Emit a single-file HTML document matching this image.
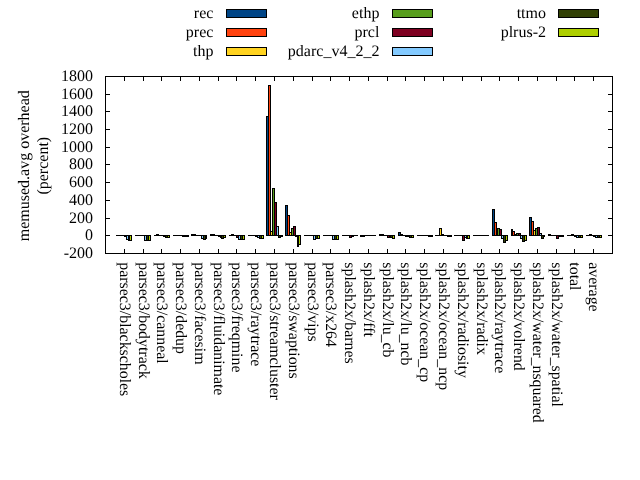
<!DOCTYPE html>
<html><head><meta charset="utf-8"><title>memused.avg overhead</title>
<style>html,body{margin:0;padding:0;background:#fff}svg{display:block;will-change:transform}text{font-family:"Liberation Serif","Times New Roman",serif;font-size:16px;fill:#000;text-rendering:geometricPrecision}</style></head>
<body>
<svg width="640" height="480" viewBox="0 0 640 480">
<rect width="640" height="480" fill="#fff"/>
<g shape-rendering="crispEdges">
<rect x="116" y="235" width="3" height="1" fill="#000"/><rect x="135" y="235" width="3" height="1" fill="#000"/><rect x="154" y="235" width="3" height="1" fill="#000"/><rect x="173" y="235" width="2" height="1" fill="#000"/><rect x="191" y="234" width="3" height="2" fill="#000"/><rect x="210" y="234" width="3" height="2" fill="#000"/><rect x="229" y="235" width="3" height="1" fill="#000"/><rect x="248" y="235" width="3" height="1" fill="#000"/><rect x="266" y="116" width="3" height="120" fill="#000"/><rect x="267" y="117" width="1" height="118" fill="#004586"/><rect x="285" y="205" width="3" height="31" fill="#000"/><rect x="286" y="206" width="1" height="29" fill="#004586"/><rect x="304" y="235" width="3" height="1" fill="#000"/><rect x="323" y="235" width="3" height="1" fill="#000"/><rect x="342" y="235" width="2" height="1" fill="#000"/><rect x="360" y="235" width="3" height="2" fill="#000"/><rect x="379" y="234" width="3" height="2" fill="#000"/><rect x="398" y="232" width="3" height="4" fill="#000"/><rect x="399" y="233" width="1" height="2" fill="#004586"/><rect x="417" y="235" width="3" height="1" fill="#000"/><rect x="435" y="235" width="3" height="1" fill="#000"/><rect x="454" y="235" width="3" height="1" fill="#000"/><rect x="473" y="235" width="3" height="1" fill="#000"/><rect x="492" y="209" width="3" height="27" fill="#000"/><rect x="493" y="210" width="1" height="25" fill="#004586"/><rect x="511" y="229" width="2" height="7" fill="#000"/><rect x="529" y="217" width="3" height="19" fill="#000"/><rect x="530" y="218" width="1" height="17" fill="#004586"/><rect x="548" y="234" width="3" height="2" fill="#000"/><rect x="567" y="235" width="3" height="1" fill="#000"/><rect x="586" y="235" width="3" height="1" fill="#000"/>
<rect x="118" y="235" width="3" height="1" fill="#000"/><rect x="137" y="235" width="3" height="1" fill="#000"/><rect x="156" y="234" width="3" height="2" fill="#000"/><rect x="174" y="235" width="3" height="1" fill="#000"/><rect x="193" y="234" width="3" height="2" fill="#000"/><rect x="212" y="234" width="3" height="2" fill="#000"/><rect x="231" y="234" width="3" height="2" fill="#000"/><rect x="250" y="235" width="2" height="1" fill="#000"/><rect x="268" y="85" width="3" height="151" fill="#000"/><rect x="269" y="86" width="1" height="149" fill="#ff420e"/><rect x="287" y="215" width="3" height="21" fill="#000"/><rect x="288" y="216" width="1" height="19" fill="#ff420e"/><rect x="306" y="235" width="3" height="1" fill="#000"/><rect x="325" y="235" width="3" height="1" fill="#000"/><rect x="343" y="235" width="3" height="1" fill="#000"/><rect x="362" y="235" width="3" height="2" fill="#000"/><rect x="381" y="234" width="3" height="2" fill="#000"/><rect x="400" y="234" width="3" height="2" fill="#000"/><rect x="419" y="235" width="2" height="1" fill="#000"/><rect x="437" y="235" width="3" height="1" fill="#000"/><rect x="456" y="235" width="3" height="1" fill="#000"/><rect x="475" y="235" width="3" height="1" fill="#000"/><rect x="494" y="222" width="3" height="14" fill="#000"/><rect x="495" y="223" width="1" height="12" fill="#ff420e"/><rect x="512" y="231" width="3" height="5" fill="#000"/><rect x="513" y="232" width="1" height="3" fill="#ff420e"/><rect x="531" y="221" width="3" height="15" fill="#000"/><rect x="532" y="222" width="1" height="13" fill="#ff420e"/><rect x="550" y="235" width="3" height="1" fill="#000"/><rect x="569" y="235" width="3" height="1" fill="#000"/><rect x="588" y="235" width="2" height="1" fill="#000"/>
<rect x="120" y="235" width="3" height="1" fill="#000"/><rect x="139" y="235" width="3" height="1" fill="#000"/><rect x="158" y="235" width="2" height="1" fill="#000"/><rect x="176" y="235" width="3" height="1" fill="#000"/><rect x="195" y="235" width="3" height="1" fill="#000"/><rect x="214" y="235" width="3" height="1" fill="#000"/><rect x="233" y="235" width="3" height="1" fill="#000"/><rect x="251" y="235" width="3" height="1" fill="#000"/><rect x="270" y="231" width="3" height="5" fill="#000"/><rect x="271" y="232" width="1" height="3" fill="#ffd320"/><rect x="289" y="232" width="3" height="4" fill="#000"/><rect x="290" y="233" width="1" height="2" fill="#ffd320"/><rect x="308" y="235" width="3" height="1" fill="#000"/><rect x="327" y="235" width="2" height="1" fill="#000"/><rect x="345" y="235" width="3" height="1" fill="#000"/><rect x="364" y="235" width="3" height="1" fill="#000"/><rect x="383" y="235" width="3" height="1" fill="#000"/><rect x="402" y="235" width="3" height="1" fill="#000"/><rect x="420" y="235" width="3" height="1" fill="#000"/><rect x="439" y="228" width="3" height="8" fill="#000"/><rect x="440" y="229" width="1" height="6" fill="#ffd320"/><rect x="458" y="235" width="3" height="1" fill="#000"/><rect x="477" y="235" width="3" height="1" fill="#000"/><rect x="496" y="228" width="2" height="8" fill="#000"/><rect x="514" y="234" width="3" height="2" fill="#000"/><rect x="533" y="230" width="3" height="6" fill="#000"/><rect x="534" y="231" width="1" height="4" fill="#ffd320"/><rect x="552" y="235" width="3" height="1" fill="#000"/><rect x="571" y="234" width="3" height="2" fill="#000"/><rect x="589" y="234" width="3" height="2" fill="#000"/>
<rect x="122" y="235" width="3" height="1" fill="#000"/><rect x="141" y="235" width="3" height="1" fill="#000"/><rect x="159" y="235" width="3" height="1" fill="#000"/><rect x="178" y="235" width="3" height="1" fill="#000"/><rect x="197" y="235" width="3" height="1" fill="#000"/><rect x="216" y="235" width="3" height="1" fill="#000"/><rect x="235" y="235" width="2" height="1" fill="#000"/><rect x="253" y="235" width="3" height="1" fill="#000"/><rect x="272" y="188" width="3" height="48" fill="#000"/><rect x="273" y="189" width="1" height="46" fill="#579d1c"/><rect x="291" y="228" width="3" height="8" fill="#000"/><rect x="292" y="229" width="1" height="6" fill="#579d1c"/><rect x="310" y="235" width="3" height="1" fill="#000"/><rect x="328" y="235" width="3" height="1" fill="#000"/><rect x="347" y="235" width="3" height="1" fill="#000"/><rect x="366" y="235" width="3" height="1" fill="#000"/><rect x="385" y="235" width="3" height="1" fill="#000"/><rect x="404" y="235" width="2" height="1" fill="#000"/><rect x="422" y="235" width="3" height="1" fill="#000"/><rect x="441" y="234" width="3" height="2" fill="#000"/><rect x="460" y="235" width="3" height="1" fill="#000"/><rect x="479" y="235" width="3" height="1" fill="#000"/><rect x="497" y="228" width="3" height="8" fill="#000"/><rect x="498" y="229" width="1" height="6" fill="#579d1c"/><rect x="516" y="233" width="3" height="3" fill="#000"/><rect x="517" y="234" width="1" height="1" fill="#579d1c"/><rect x="535" y="228" width="3" height="8" fill="#000"/><rect x="536" y="229" width="1" height="6" fill="#579d1c"/><rect x="554" y="235" width="3" height="1" fill="#000"/><rect x="573" y="235" width="2" height="1" fill="#000"/><rect x="591" y="235" width="3" height="1" fill="#000"/>
<rect x="124" y="235" width="3" height="2" fill="#000"/><rect x="143" y="235" width="2" height="1" fill="#000"/><rect x="161" y="235" width="3" height="1" fill="#000"/><rect x="180" y="235" width="3" height="1" fill="#000"/><rect x="199" y="235" width="3" height="1" fill="#000"/><rect x="218" y="235" width="3" height="2" fill="#000"/><rect x="236" y="235" width="3" height="3" fill="#000"/><rect x="237" y="236" width="1" height="1" fill="#7e0021"/><rect x="255" y="235" width="3" height="2" fill="#000"/><rect x="274" y="202" width="3" height="34" fill="#000"/><rect x="275" y="203" width="1" height="32" fill="#7e0021"/><rect x="293" y="226" width="3" height="10" fill="#000"/><rect x="294" y="227" width="1" height="8" fill="#7e0021"/><rect x="312" y="235" width="2" height="1" fill="#000"/><rect x="330" y="235" width="3" height="1" fill="#000"/><rect x="349" y="235" width="3" height="3" fill="#000"/><rect x="350" y="236" width="1" height="1" fill="#7e0021"/><rect x="368" y="235" width="3" height="1" fill="#000"/><rect x="387" y="235" width="3" height="3" fill="#000"/><rect x="388" y="236" width="1" height="1" fill="#7e0021"/><rect x="405" y="235" width="3" height="2" fill="#000"/><rect x="424" y="235" width="3" height="1" fill="#000"/><rect x="443" y="235" width="3" height="1" fill="#000"/><rect x="462" y="235" width="3" height="6" fill="#000"/><rect x="463" y="236" width="1" height="4" fill="#7e0021"/><rect x="481" y="235" width="2" height="1" fill="#000"/><rect x="499" y="229" width="3" height="7" fill="#000"/><rect x="500" y="230" width="1" height="5" fill="#7e0021"/><rect x="518" y="233" width="3" height="3" fill="#000"/><rect x="519" y="234" width="1" height="1" fill="#7e0021"/><rect x="537" y="227" width="3" height="9" fill="#000"/><rect x="538" y="228" width="1" height="7" fill="#7e0021"/><rect x="556" y="235" width="3" height="4" fill="#000"/><rect x="557" y="236" width="1" height="2" fill="#7e0021"/><rect x="574" y="235" width="3" height="2" fill="#000"/><rect x="593" y="235" width="3" height="2" fill="#000"/>
<rect x="126" y="235" width="3" height="5" fill="#000"/><rect x="127" y="236" width="1" height="3" fill="#83caff"/><rect x="144" y="235" width="3" height="6" fill="#000"/><rect x="145" y="236" width="1" height="4" fill="#83caff"/><rect x="163" y="235" width="3" height="2" fill="#000"/><rect x="182" y="235" width="3" height="2" fill="#000"/><rect x="201" y="235" width="3" height="4" fill="#000"/><rect x="202" y="236" width="1" height="2" fill="#83caff"/><rect x="220" y="235" width="2" height="3" fill="#000"/><rect x="238" y="235" width="3" height="5" fill="#000"/><rect x="239" y="236" width="1" height="3" fill="#83caff"/><rect x="257" y="235" width="3" height="3" fill="#000"/><rect x="258" y="236" width="1" height="1" fill="#83caff"/><rect x="276" y="226" width="3" height="10" fill="#000"/><rect x="277" y="227" width="1" height="8" fill="#83caff"/><rect x="295" y="235" width="3" height="2" fill="#000"/><rect x="313" y="235" width="3" height="5" fill="#000"/><rect x="314" y="236" width="1" height="3" fill="#83caff"/><rect x="332" y="235" width="3" height="5" fill="#000"/><rect x="333" y="236" width="1" height="3" fill="#83caff"/><rect x="351" y="235" width="3" height="2" fill="#000"/><rect x="370" y="235" width="3" height="1" fill="#000"/><rect x="389" y="235" width="2" height="3" fill="#000"/><rect x="407" y="235" width="3" height="2" fill="#000"/><rect x="426" y="235" width="3" height="1" fill="#000"/><rect x="445" y="235" width="3" height="1" fill="#000"/><rect x="464" y="235" width="3" height="3" fill="#000"/><rect x="465" y="236" width="1" height="1" fill="#83caff"/><rect x="482" y="235" width="3" height="1" fill="#000"/><rect x="501" y="235" width="3" height="4" fill="#000"/><rect x="502" y="236" width="1" height="2" fill="#83caff"/><rect x="520" y="235" width="3" height="4" fill="#000"/><rect x="521" y="236" width="1" height="2" fill="#83caff"/><rect x="539" y="233" width="3" height="3" fill="#000"/><rect x="540" y="234" width="1" height="1" fill="#83caff"/><rect x="558" y="235" width="2" height="2" fill="#000"/><rect x="576" y="235" width="3" height="3" fill="#000"/><rect x="577" y="236" width="1" height="1" fill="#83caff"/><rect x="595" y="235" width="3" height="3" fill="#000"/><rect x="596" y="236" width="1" height="1" fill="#83caff"/>
<rect x="128" y="235" width="2" height="6" fill="#000"/><rect x="146" y="235" width="3" height="6" fill="#000"/><rect x="147" y="236" width="1" height="4" fill="#314004"/><rect x="165" y="235" width="3" height="3" fill="#000"/><rect x="166" y="236" width="1" height="1" fill="#314004"/><rect x="184" y="235" width="3" height="2" fill="#000"/><rect x="203" y="235" width="3" height="5" fill="#000"/><rect x="204" y="236" width="1" height="3" fill="#314004"/><rect x="221" y="235" width="3" height="4" fill="#000"/><rect x="222" y="236" width="1" height="2" fill="#314004"/><rect x="240" y="235" width="3" height="5" fill="#000"/><rect x="241" y="236" width="1" height="3" fill="#314004"/><rect x="259" y="235" width="3" height="4" fill="#000"/><rect x="260" y="236" width="1" height="2" fill="#314004"/><rect x="278" y="235" width="3" height="3" fill="#000"/><rect x="279" y="236" width="1" height="1" fill="#314004"/><rect x="297" y="235" width="2" height="12" fill="#000"/><rect x="315" y="235" width="3" height="4" fill="#000"/><rect x="316" y="236" width="1" height="2" fill="#314004"/><rect x="334" y="235" width="3" height="5" fill="#000"/><rect x="335" y="236" width="1" height="3" fill="#314004"/><rect x="353" y="235" width="3" height="1" fill="#000"/><rect x="372" y="235" width="3" height="1" fill="#000"/><rect x="390" y="235" width="3" height="3" fill="#000"/><rect x="391" y="236" width="1" height="1" fill="#314004"/><rect x="409" y="235" width="3" height="3" fill="#000"/><rect x="410" y="236" width="1" height="1" fill="#314004"/><rect x="428" y="235" width="3" height="2" fill="#000"/><rect x="447" y="235" width="3" height="2" fill="#000"/><rect x="466" y="235" width="2" height="4" fill="#000"/><rect x="484" y="235" width="3" height="1" fill="#000"/><rect x="503" y="235" width="3" height="8" fill="#000"/><rect x="504" y="236" width="1" height="6" fill="#314004"/><rect x="522" y="235" width="3" height="7" fill="#000"/><rect x="523" y="236" width="1" height="5" fill="#314004"/><rect x="541" y="235" width="3" height="4" fill="#000"/><rect x="542" y="236" width="1" height="2" fill="#314004"/><rect x="559" y="235" width="3" height="2" fill="#000"/><rect x="578" y="235" width="3" height="3" fill="#000"/><rect x="579" y="236" width="1" height="1" fill="#314004"/><rect x="597" y="235" width="3" height="3" fill="#000"/><rect x="598" y="236" width="1" height="1" fill="#314004"/>
<rect x="129" y="235" width="3" height="6" fill="#000"/><rect x="130" y="236" width="1" height="4" fill="#aecf00"/><rect x="148" y="235" width="3" height="6" fill="#000"/><rect x="149" y="236" width="1" height="4" fill="#aecf00"/><rect x="167" y="235" width="3" height="3" fill="#000"/><rect x="168" y="236" width="1" height="1" fill="#aecf00"/><rect x="186" y="235" width="3" height="2" fill="#000"/><rect x="205" y="235" width="2" height="4" fill="#000"/><rect x="223" y="235" width="3" height="3" fill="#000"/><rect x="224" y="236" width="1" height="1" fill="#aecf00"/><rect x="242" y="235" width="3" height="5" fill="#000"/><rect x="243" y="236" width="1" height="3" fill="#aecf00"/><rect x="261" y="235" width="3" height="4" fill="#000"/><rect x="262" y="236" width="1" height="2" fill="#aecf00"/><rect x="280" y="235" width="3" height="2" fill="#000"/><rect x="298" y="235" width="3" height="10" fill="#000"/><rect x="299" y="236" width="1" height="8" fill="#aecf00"/><rect x="317" y="235" width="3" height="4" fill="#000"/><rect x="318" y="236" width="1" height="2" fill="#aecf00"/><rect x="336" y="235" width="3" height="5" fill="#000"/><rect x="337" y="236" width="1" height="3" fill="#aecf00"/><rect x="355" y="235" width="3" height="1" fill="#000"/><rect x="374" y="235" width="2" height="1" fill="#000"/><rect x="392" y="235" width="3" height="4" fill="#000"/><rect x="393" y="236" width="1" height="2" fill="#aecf00"/><rect x="411" y="235" width="3" height="3" fill="#000"/><rect x="412" y="236" width="1" height="1" fill="#aecf00"/><rect x="430" y="235" width="3" height="2" fill="#000"/><rect x="449" y="235" width="3" height="2" fill="#000"/><rect x="467" y="235" width="3" height="4" fill="#000"/><rect x="468" y="236" width="1" height="2" fill="#aecf00"/><rect x="486" y="235" width="3" height="1" fill="#000"/><rect x="505" y="235" width="3" height="6" fill="#000"/><rect x="506" y="236" width="1" height="4" fill="#aecf00"/><rect x="524" y="235" width="3" height="6" fill="#000"/><rect x="525" y="236" width="1" height="4" fill="#aecf00"/><rect x="543" y="235" width="2" height="2" fill="#000"/><rect x="561" y="235" width="3" height="2" fill="#000"/><rect x="580" y="235" width="3" height="3" fill="#000"/><rect x="581" y="236" width="1" height="1" fill="#aecf00"/><rect x="599" y="235" width="3" height="3" fill="#000"/><rect x="600" y="236" width="1" height="1" fill="#aecf00"/>
<rect x="105" y="76" width="508" height="1" fill="#000"/><rect x="105" y="253" width="508" height="1" fill="#000"/><rect x="105" y="76" width="1" height="178" fill="#000"/><rect x="612" y="76" width="1" height="178" fill="#000"/>
<rect x="124" y="76" width="1" height="5" fill="#000"/><rect x="124" y="249" width="1" height="5" fill="#000"/><rect x="143" y="76" width="1" height="5" fill="#000"/><rect x="143" y="249" width="1" height="5" fill="#000"/><rect x="161" y="76" width="1" height="5" fill="#000"/><rect x="161" y="249" width="1" height="5" fill="#000"/><rect x="180" y="76" width="1" height="5" fill="#000"/><rect x="180" y="249" width="1" height="5" fill="#000"/><rect x="199" y="76" width="1" height="5" fill="#000"/><rect x="199" y="249" width="1" height="5" fill="#000"/><rect x="218" y="76" width="1" height="5" fill="#000"/><rect x="218" y="249" width="1" height="5" fill="#000"/><rect x="236" y="76" width="1" height="5" fill="#000"/><rect x="236" y="249" width="1" height="5" fill="#000"/><rect x="255" y="76" width="1" height="5" fill="#000"/><rect x="255" y="249" width="1" height="5" fill="#000"/><rect x="274" y="76" width="1" height="5" fill="#000"/><rect x="274" y="249" width="1" height="5" fill="#000"/><rect x="293" y="76" width="1" height="5" fill="#000"/><rect x="293" y="249" width="1" height="5" fill="#000"/><rect x="312" y="76" width="1" height="5" fill="#000"/><rect x="312" y="249" width="1" height="5" fill="#000"/><rect x="330" y="76" width="1" height="5" fill="#000"/><rect x="330" y="249" width="1" height="5" fill="#000"/><rect x="349" y="76" width="1" height="5" fill="#000"/><rect x="349" y="249" width="1" height="5" fill="#000"/><rect x="368" y="76" width="1" height="5" fill="#000"/><rect x="368" y="249" width="1" height="5" fill="#000"/><rect x="387" y="76" width="1" height="5" fill="#000"/><rect x="387" y="249" width="1" height="5" fill="#000"/><rect x="405" y="76" width="1" height="5" fill="#000"/><rect x="405" y="249" width="1" height="5" fill="#000"/><rect x="424" y="76" width="1" height="5" fill="#000"/><rect x="424" y="249" width="1" height="5" fill="#000"/><rect x="443" y="76" width="1" height="5" fill="#000"/><rect x="443" y="249" width="1" height="5" fill="#000"/><rect x="462" y="76" width="1" height="5" fill="#000"/><rect x="462" y="249" width="1" height="5" fill="#000"/><rect x="481" y="76" width="1" height="5" fill="#000"/><rect x="481" y="249" width="1" height="5" fill="#000"/><rect x="499" y="76" width="1" height="5" fill="#000"/><rect x="499" y="249" width="1" height="5" fill="#000"/><rect x="518" y="76" width="1" height="5" fill="#000"/><rect x="518" y="249" width="1" height="5" fill="#000"/><rect x="537" y="76" width="1" height="5" fill="#000"/><rect x="537" y="249" width="1" height="5" fill="#000"/><rect x="556" y="76" width="1" height="5" fill="#000"/><rect x="556" y="249" width="1" height="5" fill="#000"/><rect x="574" y="76" width="1" height="5" fill="#000"/><rect x="574" y="249" width="1" height="5" fill="#000"/><rect x="593" y="76" width="1" height="5" fill="#000"/><rect x="593" y="249" width="1" height="5" fill="#000"/><rect x="105" y="253" width="5" height="1" fill="#000"/><rect x="608" y="253" width="5" height="1" fill="#000"/><rect x="105" y="235" width="5" height="1" fill="#000"/><rect x="608" y="235" width="5" height="1" fill="#000"/><rect x="105" y="218" width="5" height="1" fill="#000"/><rect x="608" y="218" width="5" height="1" fill="#000"/><rect x="105" y="200" width="5" height="1" fill="#000"/><rect x="608" y="200" width="5" height="1" fill="#000"/><rect x="105" y="182" width="5" height="1" fill="#000"/><rect x="608" y="182" width="5" height="1" fill="#000"/><rect x="105" y="164" width="5" height="1" fill="#000"/><rect x="608" y="164" width="5" height="1" fill="#000"/><rect x="105" y="147" width="5" height="1" fill="#000"/><rect x="608" y="147" width="5" height="1" fill="#000"/><rect x="105" y="129" width="5" height="1" fill="#000"/><rect x="608" y="129" width="5" height="1" fill="#000"/><rect x="105" y="111" width="5" height="1" fill="#000"/><rect x="608" y="111" width="5" height="1" fill="#000"/><rect x="105" y="94" width="5" height="1" fill="#000"/><rect x="608" y="94" width="5" height="1" fill="#000"/><rect x="105" y="76" width="5" height="1" fill="#000"/><rect x="608" y="76" width="5" height="1" fill="#000"/>
<rect x="226" y="9" width="41" height="9" fill="#000"/><rect x="227" y="10" width="39" height="7" fill="#004586"/><rect x="226" y="28" width="41" height="9" fill="#000"/><rect x="227" y="29" width="39" height="7" fill="#ff420e"/><rect x="226" y="47" width="41" height="9" fill="#000"/><rect x="227" y="48" width="39" height="7" fill="#ffd320"/><rect x="392" y="9" width="41" height="9" fill="#000"/><rect x="393" y="10" width="39" height="7" fill="#579d1c"/><rect x="392" y="28" width="41" height="9" fill="#000"/><rect x="393" y="29" width="39" height="7" fill="#7e0021"/><rect x="392" y="47" width="41" height="9" fill="#000"/><rect x="393" y="48" width="39" height="7" fill="#83caff"/><rect x="558" y="9" width="41" height="9" fill="#000"/><rect x="559" y="10" width="39" height="7" fill="#314004"/><rect x="558" y="28" width="41" height="9" fill="#000"/><rect x="559" y="29" width="39" height="7" fill="#aecf00"/>
</g>
<text x="213.4" y="18" text-anchor="end">rec</text>
<text x="213.4" y="37" text-anchor="end">prec</text>
<text x="213.4" y="56" text-anchor="end">thp</text>
<text x="379.4" y="18" text-anchor="end">ethp</text>
<text x="379.4" y="37" text-anchor="end">prcl</text>
<text x="379.4" y="56" text-anchor="end">pdarc_v4_2_2</text>
<text x="546.0" y="18" text-anchor="end">ttmo</text>
<text x="546.0" y="37" text-anchor="end">plrus-2</text>
<text x="93" y="258" text-anchor="end">-200</text>
<text x="93" y="240" text-anchor="end">0</text>
<text x="93" y="223" text-anchor="end">200</text>
<text x="93" y="205" text-anchor="end">400</text>
<text x="93" y="187" text-anchor="end">600</text>
<text x="93" y="169" text-anchor="end">800</text>
<text x="93" y="152" text-anchor="end">1000</text>
<text x="93" y="134" text-anchor="end">1200</text>
<text x="93" y="116" text-anchor="end">1400</text>
<text x="93" y="99" text-anchor="end">1600</text>
<text x="93" y="81" text-anchor="end">1800</text>
<text transform="translate(119.7,262.3) rotate(90)" style="font-size:15.88px">parsec3/blackscholes</text>
<text transform="translate(138.7,262.3) rotate(90)" style="font-size:15.88px">parsec3/bodytrack</text>
<text transform="translate(156.7,262.3) rotate(90)" style="font-size:15.88px">parsec3/canneal</text>
<text transform="translate(175.7,262.3) rotate(90)" style="font-size:15.88px">parsec3/dedup</text>
<text transform="translate(194.7,262.3) rotate(90)" style="font-size:15.88px">parsec3/facesim</text>
<text transform="translate(213.7,262.3) rotate(90)" style="font-size:15.88px">parsec3/fluidanimate</text>
<text transform="translate(231.7,262.3) rotate(90)" style="font-size:15.88px">parsec3/freqmine</text>
<text transform="translate(250.7,262.3) rotate(90)" style="font-size:15.88px">parsec3/raytrace</text>
<text transform="translate(269.7,262.3) rotate(90)" style="font-size:15.88px">parsec3/streamcluster</text>
<text transform="translate(288.7,262.3) rotate(90)" style="font-size:15.88px">parsec3/swaptions</text>
<text transform="translate(307.7,262.3) rotate(90)" style="font-size:15.88px">parsec3/vips</text>
<text transform="translate(325.7,262.3) rotate(90)" style="font-size:15.88px">parsec3/x264</text>
<text transform="translate(344.7,262.3) rotate(90)" style="font-size:15.88px">splash2x/barnes</text>
<text transform="translate(363.7,262.3) rotate(90)" style="font-size:15.88px">splash2x/fft</text>
<text transform="translate(382.7,262.3) rotate(90)" style="font-size:15.88px">splash2x/lu_cb</text>
<text transform="translate(400.7,262.3) rotate(90)" style="font-size:15.88px">splash2x/lu_ncb</text>
<text transform="translate(419.7,262.3) rotate(90)" style="font-size:15.88px">splash2x/ocean_cp</text>
<text transform="translate(438.7,262.3) rotate(90)" style="font-size:15.88px">splash2x/ocean_ncp</text>
<text transform="translate(457.7,262.3) rotate(90)" style="font-size:15.88px">splash2x/radiosity</text>
<text transform="translate(476.7,262.3) rotate(90)" style="font-size:15.88px">splash2x/radix</text>
<text transform="translate(494.7,262.3) rotate(90)" style="font-size:15.88px">splash2x/raytrace</text>
<text transform="translate(513.7,262.3) rotate(90)" style="font-size:15.88px">splash2x/volrend</text>
<text transform="translate(532.7,262.3) rotate(90)" style="font-size:15.88px">splash2x/water_nsquared</text>
<text transform="translate(551.7,262.3) rotate(90)" style="font-size:15.88px">splash2x/water_spatial</text>
<text transform="translate(569.7,262.3) rotate(90)" style="font-size:15.88px">total</text>
<text transform="translate(588.7,262.3) rotate(90)" style="font-size:15.88px">average</text>
<text transform="translate(28.7,165.7) rotate(-90)" text-anchor="middle">memused.avg overhead</text>
<text transform="translate(47.8,165.7) rotate(-90)" text-anchor="middle">(percent)</text>
</svg>
</body></html>
